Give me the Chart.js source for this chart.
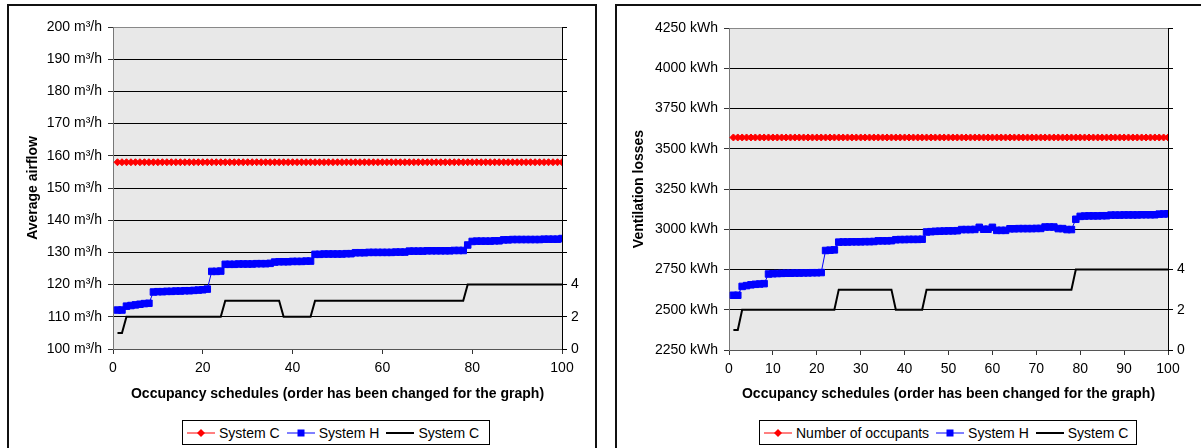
<!DOCTYPE html>
<html>
<head>
<meta charset="utf-8">
<script src="https://cdn.jsdelivr.net/npm/chart.js@4"></script>
<style>
  html, body { margin:0; padding:0; background:#fff; width:1201px; height:448px; overflow:hidden; font-family:"Liberation Sans", Arial, sans-serif; }
  .panel { position:absolute; border:2px solid #111; background:#fff; box-sizing:border-box; }
  canvas { position:absolute; }
  .legend { position:absolute; border:1px solid #000; box-sizing:border-box; height:25px; display:flex; align-items:center; padding-left:4px; font-size:14px; color:#000; white-space:nowrap; background:#fff; }
  .legend .item { display:flex; align-items:center; margin-right:7px; }
  .legend svg { margin-right:4px; display:block; }
</style>
</head>
<body>
<div class="panel" style="left:7px; top:4px; width:590px; height:460px;"></div>
<div class="panel" style="left:615px; top:4px; width:600px; height:460px;"></div>
<canvas id="c1" width="584" height="441" style="left:10px; top:7px;"></canvas>
<canvas id="c2" width="581" height="440" style="left:618px; top:8px;"></canvas>
<div class="legend" id="lg1" style="left:182px; top:420px; width:308px;"></div>
<div class="legend" id="lg2" style="left:759px; top:420px; width:378px;"></div>
<script>
// ---- data ----
const schedules = [1,2,3,4,5,6,7,8,9,10,11,12,13,14,15,16,17,18,19,20,
  21,22,23,24,25,26,27,28,29,30,31,32,33,34,35,36,37,38,39,40,
  41,42,43,44,45,46,47,48,49,50,51,52,53,54,55,56,57,58,59,60,
  61,62,63,64,65,66,67,68,69,70,71,72,73,74,75,76,77,78,79,80,
  81,82,83,84,85,86,87,88,89,90,91,92,93,94,95,96,97,98,99,100];

const airflowSystemC = [158,158,158,158,158,158,158,158,158,158,158,158,158,158,158,158,158,158,158,158,
  158,158,158,158,158,158,158,158,158,158,158,158,158,158,158,158,158,158,158,158,
  158,158,158,158,158,158,158,158,158,158,158,158,158,158,158,158,158,158,158,158,
  158,158,158,158,158,158,158,158,158,158,158,158,158,158,158,158,158,158,158,158,
  158,158,158,158,158,158,158,158,158,158,158,158,158,158,158,158,158,158,158,158];

const airflowSystemH = [112.1,112.1,113.3,113.5,113.7,113.9,114.1,114.2,
  117.7,117.8,117.8,117.9,117.9,118.0,118.0,118.1,118.1,118.2,118.3,118.4,118.6,
  124.1,124.1,124.2,
  126.3,126.3,126.3,126.4,126.4,126.4,126.4,126.5,126.5,126.5,126.6,
  127.0,127.1,127.1,127.1,127.2,127.2,127.2,127.3,127.3,
  129.4,129.4,129.5,129.5,129.5,129.5,129.5,129.6,129.6,
  129.9,129.9,129.9,130.0,130.0,130.0,130.0,130.0,130.0,130.1,130.1,130.1,
  130.4,130.4,130.4,130.4,130.5,130.5,130.5,130.5,130.5,130.5,130.6,130.6,130.6,
  132.3,
  133.4,133.5,133.5,133.5,133.5,133.6,133.6,
  133.9,133.9,134.0,134.0,134.0,134.0,134.0,134.0,134.0,134.1,134.1,134.1,134.1,
  134.3];

const occupants = [1,1,
  2,2,2,2,2,2,2,2,2,2,2,2,2,2,2,2,2,2,2,2,2,2,
  3,3,3,3,3,3,3,3,3,3,3,3,3,
  2,2,2,2,2,2,2,
  3,3,3,3,3,3,3,3,3,3,3,3,3,3,3,3,3,3,3,3,3,3,3,3,3,3,3,3,3,3,3,3,3,3,
  4,4,4,4,4,4,4,4,4,4,4,4,4,4,4,4,4,4,4,4,4,4];

const lossesSystemC = [3570,3570,3570,3570,3570,3570,3570,3570,3570,3570,3570,3570,3570,3570,3570,3570,3570,3570,3570,3570,
  3570,3570,3570,3570,3570,3570,3570,3570,3570,3570,3570,3570,3570,3570,3570,3570,3570,3570,3570,3570,
  3570,3570,3570,3570,3570,3570,3570,3570,3570,3570,3570,3570,3570,3570,3570,3570,3570,3570,3570,3570,
  3570,3570,3570,3570,3570,3570,3570,3570,3570,3570,3570,3570,3570,3570,3570,3570,3570,3570,3570,3570,
  3570,3570,3570,3570,3570,3570,3570,3570,3570,3570,3570,3570,3570,3570,3570,3570,3570,3570,3570,3570];

const lossesSystemH = [2590,2590,2645,2650,2655,2658,2660,2662,
  2722,2724,2725,2726,2727,2727,2728,2728,2729,2729,2730,2730,2731,
  2868,2870,2872,
  2920,2921,2921,2922,2922,2922,2923,2923,2924,
  2928,2928,2928,2929,
  2935,2936,2936,2937,2937,2937,2938,
  2983,2985,2987,2988,2989,2990,2990,2991,
  2998,2998,2998,2999,3012,3000,3000,3012,2993,2993,2993,
  3003,3003,3004,3004,3004,3004,3005,3005,
  3014,3014,3014,3004,3004,2998,2998,
  3062,
  3080,3082,3083,3083,3083,3084,3084,
  3088,3088,3088,3089,3089,3089,3089,3090,3090,3090,3090,
  3094,3095,3096];

const leftLegend = ['System C', 'System H', 'System C'];
const rightLegend = ['Number of occupants', 'System H', 'System C'];
const xTitle = 'Occupancy schedules (order has been changed for the graph)';

// ---- chart setup ----
Chart.defaults.font.family = '"Liberation Sans", Arial, sans-serif';
Chart.defaults.font.size = 14;
Chart.defaults.color = '#000';

const plotBg = {
  id: 'plotBg',
  beforeDraw(chart) {
    const a = chart.chartArea, ctx = chart.ctx;
    ctx.save();
    ctx.fillStyle = '#e8e8e8';
    ctx.fillRect(a.left, a.top, a.right - a.left, a.bottom - a.top);
    ctx.restore();
  }
};

function makeChart(id, opts) {
  const ds = [
    { label: opts.legend[0], data: opts.red, borderColor: '#ff0000', backgroundColor: '#ff0000',
      borderWidth: 1, pointStyle: 'rectRot', pointRadius: 3.5, pointBorderWidth: 1, yAxisID: 'y', order: 3 },
    { label: opts.legend[1], data: opts.blue, borderColor: '#0000ff', backgroundColor: '#0000ff',
      borderWidth: 1, pointStyle: 'rect', pointRadius: 4.6, pointBorderWidth: 1, yAxisID: 'y', order: 2 },
    { label: opts.legend[2], data: occupants, borderColor: '#000', backgroundColor: '#000',
      borderWidth: 2, pointRadius: 0, yAxisID: 'y1', order: 1 }
  ];
  return new Chart(document.getElementById(id), {
    type: 'line',
    data: { labels: schedules, datasets: ds },
    plugins: [plotBg],
    options: {
      responsive: false, animation: false, devicePixelRatio: 1,
      layout: { padding: { top: 20, left: 0, right: 0, bottom: 0 } },
      plugins: { legend: { display: false }, tooltip: { enabled: false } },
      elements: { line: { tension: 0 } },
      scales: {
        x: {
          type: 'linear', min: 0, max: 100,
          ticks: { stepSize: opts.xStep, maxRotation: 0, autoSkip: false, padding: 6 },
          grid: { drawOnChartArea: false, drawTicks: true, tickLength: 5, tickColor: '#333' },
          border: { color: '#555', width: 1 },
          title: { display: true, text: xTitle, font: { weight: 'bold', size: 14 }, padding: { top: 0, bottom: 45.6 } },
          afterFit(s) { s.height = opts.xH; }
        },
        y: {
          position: 'left', min: opts.yMin, max: opts.yMax,
          ticks: { stepSize: opts.yStep, padding: 6, callback: v => v + opts.unit },
          grid: { color: c => (c.tick && c.tick.value === opts.yMax) ? '#888' : '#000', tickLength: 5, tickColor: '#333' },
          border: { color: '#777', width: 1 },
          title: { display: true, text: opts.yTitle, font: { weight: 'bold', size: 14 }, padding: { top: opts.yTitlePad, bottom: 0 } },
          afterFit(s) { s.width = opts.yW; }
        },
        y1: {
          position: 'right', min: 0, max: opts.y1Max,
          ticks: { stepSize: 2, padding: 4, callback: v => (v <= 4 ? String(v) : '') },
          grid: { drawOnChartArea: false, tickLength: 5, tickColor: '#000' },
          border: { color: '#000', width: 1 },
          afterFit(s) { s.width = opts.y1W; }
        }
      }
    }
  });
}

makeChart('c1', {
  legend: leftLegend, red: airflowSystemC, blue: airflowSystemH,
  xStep: 20, yMin: 100, yMax: 200, yStep: 10, unit: ' m³/h', yTitle: 'Average airflow',
  y1Max: 20, xH: 99, yW: 103, y1W: 32, yTitlePad: 14.6
});
makeChart('c2', {
  legend: rightLegend, red: lossesSystemC, blue: lossesSystemH,
  xStep: 10, yMin: 2250, yMax: 4250, yStep: 250, unit: ' kWh', yTitle: 'Ventilation losses',
  y1Max: 16, xH: 98, yW: 111, y1W: 31, yTitlePad: 12.6
});

// ---- HTML legends ----
function markerSvg(kind) {
  if (kind === 0) return '<svg width="28" height="10"><line x1="0" y1="5" x2="28" y2="5" stroke="#f00" stroke-width="1"/><polygon points="14,1 18,5 14,9 10,5" fill="#f00"/></svg>';
  if (kind === 1) return '<svg width="28" height="10"><line x1="0" y1="5" x2="28" y2="5" stroke="#00f" stroke-width="1"/><rect x="10.5" y="1.5" width="7" height="7" fill="#00f"/></svg>';
  return '<svg width="28" height="10"><line x1="0" y1="5" x2="28" y2="5" stroke="#000" stroke-width="2"/></svg>';
}
function buildLegend(id, names) {
  const el = document.getElementById(id);
  names.forEach((n, i) => {
    const it = document.createElement('div');
    it.className = 'item';
    it.innerHTML = markerSvg(i) + '<span>' + n + '</span>';
    el.appendChild(it);
  });
}
buildLegend('lg1', leftLegend);
buildLegend('lg2', rightLegend);
</script>
</body>
</html>
